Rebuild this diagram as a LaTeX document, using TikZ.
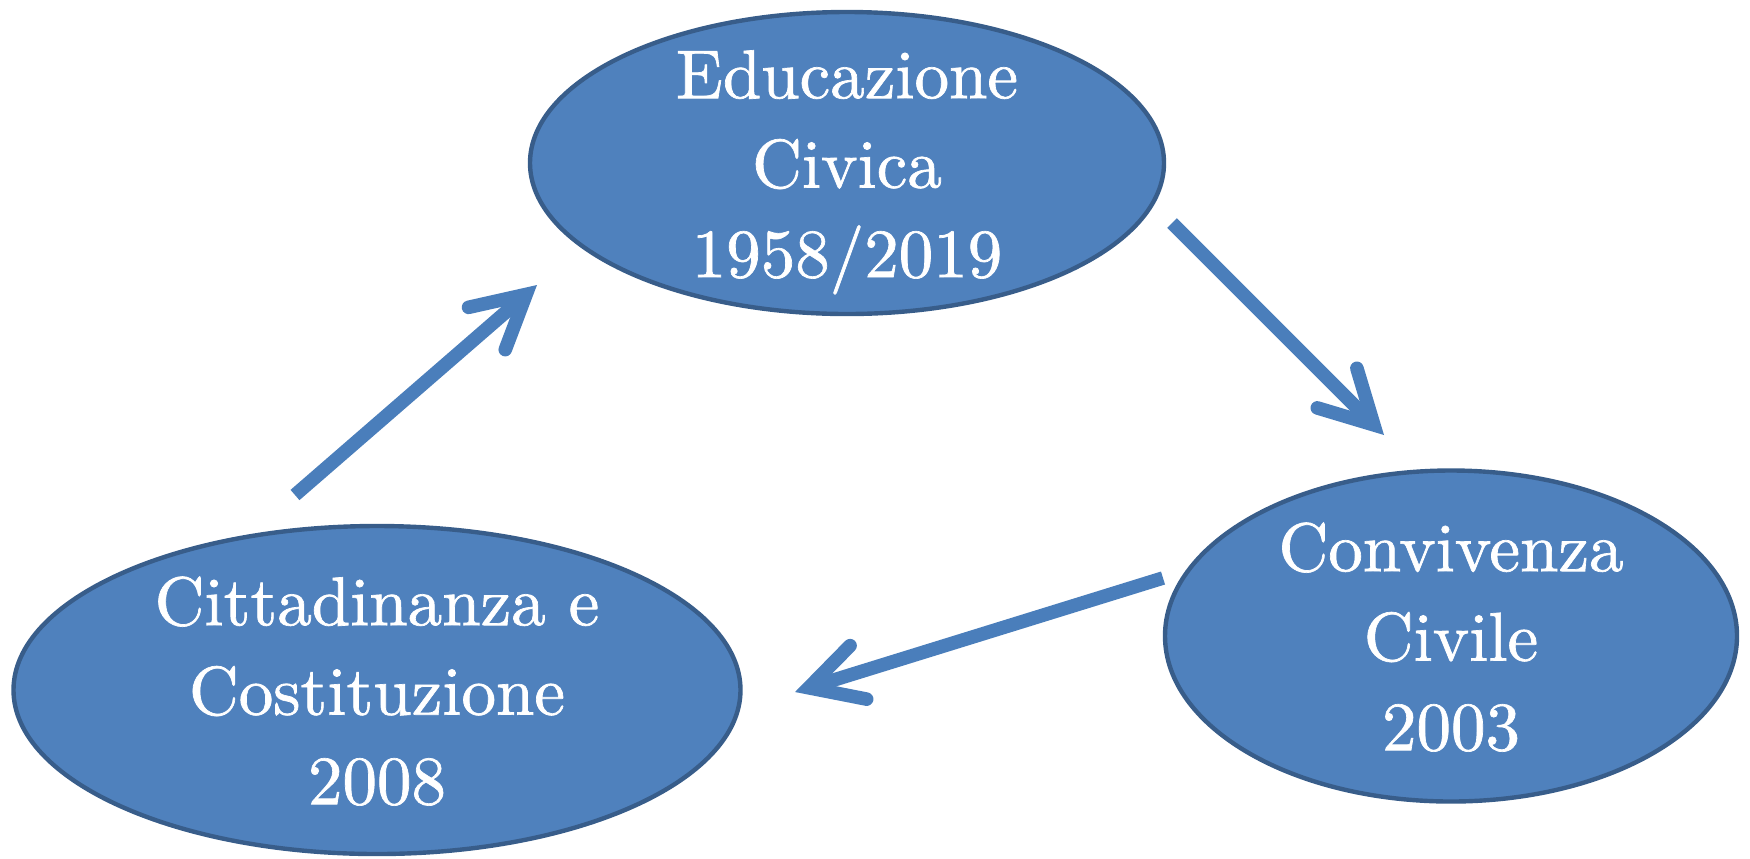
\documentclass[tikz,border=0pt]{standalone}
\usepackage{fontspec}
\newfontfamily\ellfont{lmroman10-regular.otf}[FakeBold=1]
\usetikzlibrary{shapes.geometric,arrows.meta}
\definecolor{efill}{HTML}{4F81BD}
\definecolor{eline}{HTML}{385D8A}
\definecolor{arrcol}{HTML}{4A7EBB}
\newcommand{\elltext}[1]{\smash{\makebox[0pt]{\raisebox{-12pt}{\scalebox{3.45}{\fontsize{10}{12.97}\ellfont\selectfont\begin{tabular}{@{}c@{}}#1\end{tabular}}}}}}
\begin{document}
\begin{tikzpicture}[x=0.5pt,y=-0.5pt,
  ell/.style={ellipse, draw=eline, line width=2.2pt, fill=efill, inner sep=0pt, outer sep=0pt, text=white},
  flow/.style={draw=arrcol, line width=6.8pt, line cap=butt,
    -{Straight Barb[length=26pt,width=28pt,line cap=round,line join=miter]}}]
\clip (0,0) rectangle (1750,858);
\useasboundingbox (0,0) rectangle (1750,858);
\node[ell, minimum width=317pt, minimum height=151pt] (edu) at (847,163)
  {\elltext{Educazione\\Civica\\1958/2019}};
\node[ell, minimum width=286pt, minimum height=165.5pt] (conv) at (1451,636)
  {\elltext{Convivenza\\Civile\\2003}};
\node[ell, minimum width=363.5pt, minimum height=164pt] (citt) at (377,690)
  {\elltext{Cittadinanza e\\Costituzione\\2008}};
\coordinate (a1s) at (1172,223);
\coordinate (a1e) at (1384,435);
\coordinate (a2s) at (1163,578);
\coordinate (a2e) at (795,692);
\coordinate (a3s) at (295,495);
\coordinate (a3e) at (537,285);
\draw[flow] (a1s) -- (a1e);
\draw[flow] (a2s) -- (a2e);
\draw[flow] (a3s) -- (a3e);
\end{tikzpicture}
\end{document}
